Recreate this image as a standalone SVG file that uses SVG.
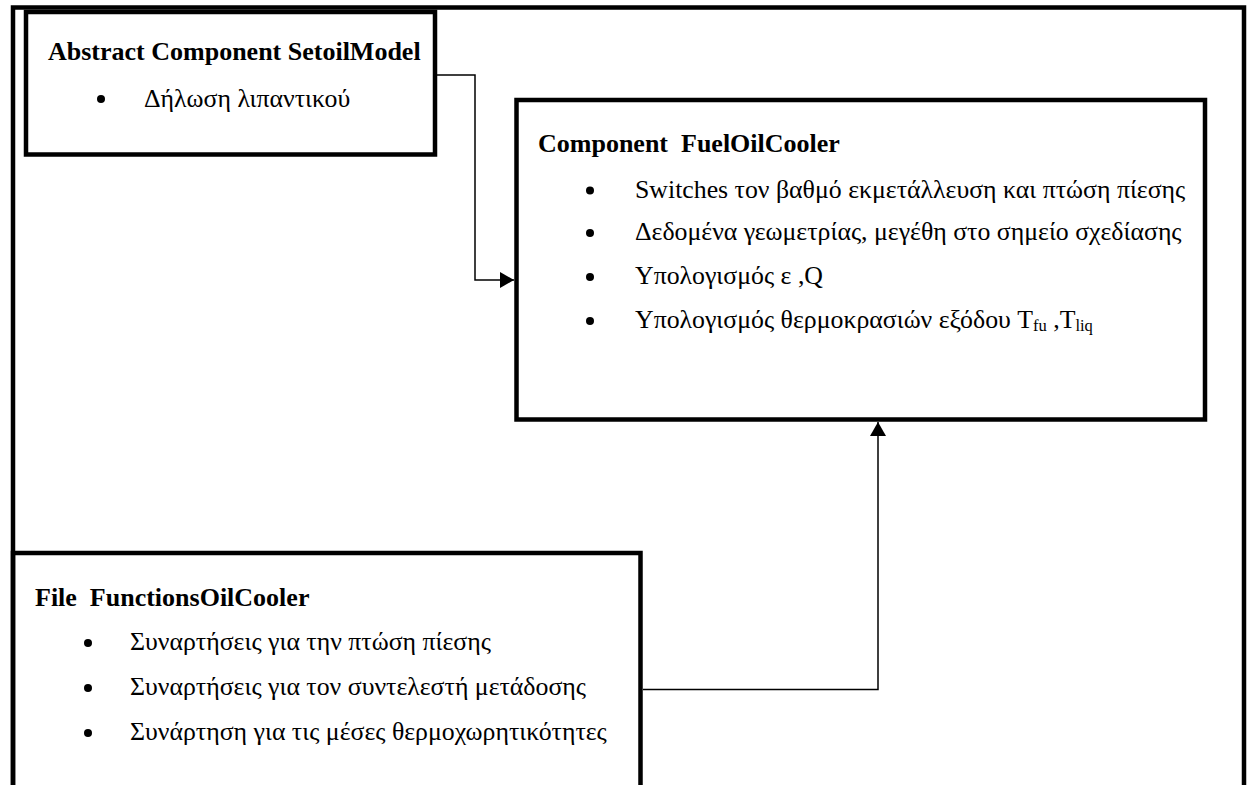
<svg xmlns="http://www.w3.org/2000/svg" width="1250" height="785" viewBox="0 0 1250 785">
<style>
.box{fill:none;stroke:#000;stroke-width:4.5;stroke-linejoin:miter}
.t{font-family:"Liberation Serif","Times New Roman","DejaVu Serif",serif;fill:#000}
.h{font-size:26px;font-weight:bold}
.b{font-size:25.8px}
.sub{font-size:16.5px}
.con{fill:none;stroke:#000;stroke-width:1.5}
</style>
<defs>
<marker id="arr" viewBox="0 0 14 16" refX="14" refY="8" markerWidth="14" markerHeight="16" markerUnits="userSpaceOnUse" orient="auto">
<path d="M0,0 L14,8 L0,16 Z" fill="#000"/>
</marker>
</defs>
<rect width="1250" height="785" fill="#fff"/>
<g id="frame">
<path class="box" d="M13,800 V7.5 H1244 V800"/>
</g>
<g id="setoilmodel">
<rect class="box" x="26" y="12" width="409" height="142.5"/>
<text class="t h" x="48" y="60">Abstract Component SetoilModel</text>
<circle cx="101" cy="99" r="4"/>
<text class="t b" x="144" y="107">Δήλωση λιπαντικού</text>
</g>
<g id="fueloilcooler">
<rect class="box" x="516.5" y="100" width="688.5" height="319.5"/>
<text class="t h" x="538" y="152" xml:space="preserve">Component  FuelOilCooler</text>
<circle cx="590" cy="190.5" r="4"/>
<text class="t b" x="635" y="197.5">Switches τον βαθμό εκμετάλλευση και πτώση πίεσης</text>
<circle cx="590" cy="233" r="4"/>
<text class="t b" x="635" y="240">Δεδομένα γεωμετρίας, μεγέθη στο σημείο σχεδίασης</text>
<circle cx="590" cy="277" r="4"/>
<text class="t b" x="635" y="284">Υπολογισμός ε ,Q</text>
<circle cx="590" cy="321" r="4"/>
<text class="t b" x="635" y="328">Υπολογισμός θερμοκρασιών εξόδου T<tspan class="sub" dy="3">fu</tspan><tspan dy="-3"> ,T</tspan><tspan class="sub" dy="3">liq</tspan></text>
</g>
<g id="functionsoilcooler">
<path class="box" d="M13,800 V553 H640.5 V800"/>
<text class="t h" x="35" y="606" xml:space="preserve">File  FunctionsOilCooler</text>
<circle cx="88" cy="643" r="4"/>
<text class="t b" x="130" y="650">Συναρτήσεις για την πτώση πίεσης</text>
<circle cx="88" cy="688" r="4"/>
<text class="t b" x="130" y="695">Συναρτήσεις για τον συντελεστή μετάδοσης</text>
<circle cx="88" cy="733" r="4"/>
<text class="t b" x="130" y="740">Συνάρτηση για τις μέσες θερμοχωρητικότητες</text>
</g>
<g id="connectors">
<path class="con" d="M437,75 H475 V280 H514" marker-end="url(#arr)"/>
<path class="con" d="M643,689.5 H878 V422" marker-end="url(#arr)"/>
</g>
</svg>
